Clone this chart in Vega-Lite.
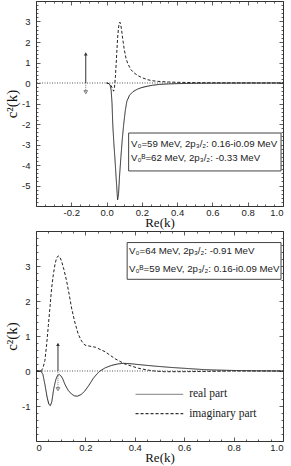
{
  "$schema": "https://vega.github.io/schema/vega-lite/v6.json",
  "padding": {"left": 4, "top": 0, "right": 0, "bottom": 0},
  "spacing": 0,
  "config": {
    "view": {"stroke": "#333", "strokeWidth": 1},
    "axis": {"grid": false, "domain": false, "labelFont": "Liberation Sans", "labelFontSize": 9.5, "labelColor": "#222", "tickColor": "#333", "tickWidth": 0.8, "titleFont": "Liberation Serif", "titleFontWeight": "normal", "titleColor": "#111"}
  },
  "datasets": {
    "top": [
      {"x": 0.0, "y": 0, "part": "real"},
      {"x": 0.012, "y": -0.03, "part": "real"},
      {"x": 0.02, "y": -0.1, "part": "real"},
      {"x": 0.026, "y": -0.35, "part": "real"},
      {"x": 0.031, "y": -1.0, "part": "real"},
      {"x": 0.035, "y": -2.0, "part": "real"},
      {"x": 0.041, "y": -2.9, "part": "real"},
      {"x": 0.047, "y": -3.64, "part": "real"},
      {"x": 0.054, "y": -4.6, "part": "real"},
      {"x": 0.0625, "y": -5.7, "part": "real"},
      {"x": 0.068, "y": -5.4, "part": "real"},
      {"x": 0.073, "y": -4.6, "part": "real"},
      {"x": 0.081, "y": -3.64, "part": "real"},
      {"x": 0.089, "y": -2.75, "part": "real"},
      {"x": 0.097, "y": -2.02, "part": "real"},
      {"x": 0.106, "y": -1.35, "part": "real"},
      {"x": 0.115, "y": -0.89, "part": "real"},
      {"x": 0.13, "y": -0.6, "part": "real"},
      {"x": 0.15, "y": -0.42, "part": "real"},
      {"x": 0.175, "y": -0.3, "part": "real"},
      {"x": 0.2, "y": -0.22, "part": "real"},
      {"x": 0.23, "y": -0.16, "part": "real"},
      {"x": 0.26, "y": -0.11, "part": "real"},
      {"x": 0.3, "y": -0.07, "part": "real"},
      {"x": 0.35, "y": -0.045, "part": "real"},
      {"x": 0.4, "y": -0.03, "part": "real"},
      {"x": 0.5, "y": -0.015, "part": "real"},
      {"x": 0.6, "y": -0.008, "part": "real"},
      {"x": 0.8, "y": -0.002, "part": "real"},
      {"x": 1.0, "y": 0, "part": "real"},
      {"x": 0.0, "y": 0, "part": "imaginary"},
      {"x": 0.015, "y": -0.03, "part": "imaginary"},
      {"x": 0.025, "y": -0.12, "part": "imaginary"},
      {"x": 0.035, "y": -0.3, "part": "imaginary"},
      {"x": 0.04, "y": -0.4, "part": "imaginary"},
      {"x": 0.045, "y": -0.2, "part": "imaginary"},
      {"x": 0.05, "y": 0.3, "part": "imaginary"},
      {"x": 0.053, "y": 0.73, "part": "imaginary"},
      {"x": 0.058, "y": 1.5, "part": "imaginary"},
      {"x": 0.0625, "y": 2.18, "part": "imaginary"},
      {"x": 0.067, "y": 2.65, "part": "imaginary"},
      {"x": 0.0715, "y": 2.9, "part": "imaginary"},
      {"x": 0.0755, "y": 2.97, "part": "imaginary"},
      {"x": 0.08, "y": 2.85, "part": "imaginary"},
      {"x": 0.085, "y": 2.6, "part": "imaginary"},
      {"x": 0.091, "y": 2.18, "part": "imaginary"},
      {"x": 0.1, "y": 1.65, "part": "imaginary"},
      {"x": 0.11, "y": 1.21, "part": "imaginary"},
      {"x": 0.12, "y": 0.95, "part": "imaginary"},
      {"x": 0.138, "y": 0.65, "part": "imaginary"},
      {"x": 0.155, "y": 0.5, "part": "imaginary"},
      {"x": 0.176, "y": 0.37, "part": "imaginary"},
      {"x": 0.2, "y": 0.26, "part": "imaginary"},
      {"x": 0.233, "y": 0.16, "part": "imaginary"},
      {"x": 0.26, "y": 0.11, "part": "imaginary"},
      {"x": 0.29, "y": 0.08, "part": "imaginary"},
      {"x": 0.35, "y": 0.05, "part": "imaginary"},
      {"x": 0.4, "y": 0.035, "part": "imaginary"},
      {"x": 0.5, "y": 0.02, "part": "imaginary"},
      {"x": 0.6, "y": 0.01, "part": "imaginary"},
      {"x": 0.8, "y": 0.004, "part": "imaginary"},
      {"x": 1.0, "y": 0, "part": "imaginary"}
    ],
    "bottom": [
      {"x": 0.0, "y": 0, "part": "real"},
      {"x": 0.02, "y": 0, "part": "real"},
      {"x": 0.028, "y": -0.1, "part": "real"},
      {"x": 0.036, "y": -0.38, "part": "real"},
      {"x": 0.045, "y": -0.75, "part": "real"},
      {"x": 0.052, "y": -0.95, "part": "real"},
      {"x": 0.058, "y": -0.99, "part": "real"},
      {"x": 0.064, "y": -0.88, "part": "real"},
      {"x": 0.072, "y": -0.5, "part": "real"},
      {"x": 0.08, "y": -0.25, "part": "real"},
      {"x": 0.087, "y": -0.13, "part": "real"},
      {"x": 0.094, "y": -0.1, "part": "real"},
      {"x": 0.1, "y": -0.13, "part": "real"},
      {"x": 0.108, "y": -0.22, "part": "real"},
      {"x": 0.117, "y": -0.38, "part": "real"},
      {"x": 0.13, "y": -0.55, "part": "real"},
      {"x": 0.144, "y": -0.66, "part": "real"},
      {"x": 0.156, "y": -0.71, "part": "real"},
      {"x": 0.168, "y": -0.72, "part": "real"},
      {"x": 0.183, "y": -0.67, "part": "real"},
      {"x": 0.198, "y": -0.57, "part": "real"},
      {"x": 0.215, "y": -0.4, "part": "real"},
      {"x": 0.232, "y": -0.21, "part": "real"},
      {"x": 0.246, "y": -0.09, "part": "real"},
      {"x": 0.259, "y": 0, "part": "real"},
      {"x": 0.28, "y": 0.09, "part": "real"},
      {"x": 0.306, "y": 0.16, "part": "real"},
      {"x": 0.33, "y": 0.2, "part": "real"},
      {"x": 0.353, "y": 0.22, "part": "real"},
      {"x": 0.38, "y": 0.21, "part": "real"},
      {"x": 0.42, "y": 0.18, "part": "real"},
      {"x": 0.48, "y": 0.14, "part": "real"},
      {"x": 0.55, "y": 0.1, "part": "real"},
      {"x": 0.616, "y": 0.07, "part": "real"},
      {"x": 0.68, "y": 0.04, "part": "real"},
      {"x": 0.72, "y": 0.03, "part": "real"},
      {"x": 0.8, "y": 0.015, "part": "real"},
      {"x": 0.9, "y": 0.005, "part": "real"},
      {"x": 1.0, "y": 0, "part": "real"},
      {"x": 0.0, "y": 0, "part": "imaginary"},
      {"x": 0.02, "y": 0, "part": "imaginary"},
      {"x": 0.028, "y": 0.08, "part": "imaginary"},
      {"x": 0.036, "y": 0.3, "part": "imaginary"},
      {"x": 0.043, "y": 0.75, "part": "imaginary"},
      {"x": 0.05, "y": 1.3, "part": "imaginary"},
      {"x": 0.057, "y": 1.85, "part": "imaginary"},
      {"x": 0.063, "y": 2.35, "part": "imaginary"},
      {"x": 0.07, "y": 2.75, "part": "imaginary"},
      {"x": 0.077, "y": 3.05, "part": "imaginary"},
      {"x": 0.083, "y": 3.22, "part": "imaginary"},
      {"x": 0.09, "y": 3.29, "part": "imaginary"},
      {"x": 0.096, "y": 3.26, "part": "imaginary"},
      {"x": 0.103, "y": 3.15, "part": "imaginary"},
      {"x": 0.113, "y": 2.9, "part": "imaginary"},
      {"x": 0.124, "y": 2.57, "part": "imaginary"},
      {"x": 0.134, "y": 2.2, "part": "imaginary"},
      {"x": 0.144, "y": 1.8, "part": "imaginary"},
      {"x": 0.157, "y": 1.4, "part": "imaginary"},
      {"x": 0.171, "y": 1.05, "part": "imaginary"},
      {"x": 0.185, "y": 0.85, "part": "imaginary"},
      {"x": 0.198, "y": 0.74, "part": "imaginary"},
      {"x": 0.21, "y": 0.72, "part": "imaginary"},
      {"x": 0.24, "y": 0.68, "part": "imaginary"},
      {"x": 0.28, "y": 0.55, "part": "imaginary"},
      {"x": 0.32, "y": 0.35, "part": "imaginary"},
      {"x": 0.36, "y": 0.2, "part": "imaginary"},
      {"x": 0.414, "y": 0.08, "part": "imaginary"},
      {"x": 0.45, "y": 0.03, "part": "imaginary"},
      {"x": 0.48, "y": 0, "part": "imaginary"},
      {"x": 0.52, "y": -0.02, "part": "imaginary"},
      {"x": 0.6, "y": -0.02, "part": "imaginary"},
      {"x": 0.7, "y": -0.01, "part": "imaginary"},
      {"x": 0.8, "y": 0, "part": "imaginary"},
      {"x": 1.0, "y": 0, "part": "imaginary"}
    ]
  },
  "vconcat": [
    {
      "width": 247,
      "height": 205,
      "resolve": {"axis": {"x": "independent", "y": "independent"}},
      "layer": [
        {
          "data": {"values": [{}]},
          "mark": {"type": "rule", "color": "#555", "strokeWidth": 1, "strokeDash": [1, 1.5]},
          "encoding": {"y": {"datum": 0, "type": "quantitative", "scale": {"domain": [-6, 4], "nice": false, "zero": false}, "axis": null}}
        },
        {
          "data": {"name": "top"},
          "mark": {"type": "line", "color": "#222", "strokeWidth": 1},
          "encoding": {
            "x": {"field": "x", "type": "quantitative", "scale": {"domain": [-0.4, 1.0], "nice": false, "zero": false},
                  "axis": {"orient": "bottom", "values": [-0.2, 0, 0.2, 0.4, 0.6, 0.8, 1.0], "ticks": false, "labelPadding": 1, "labelExpr": "replace(format(datum.value, '.1f'), '\u2212', '-')", "title": "Re(k)", "titleFontSize": 13, "titlePadding": 0}},
            "y": {"field": "y", "type": "quantitative", "scale": {"domain": [-6, 4], "nice": false, "zero": false},
                  "axis": {"orient": "left", "values": [-5, -4, -3, -2, -1, 0, 1, 2, 3], "ticks": false, "labelPadding": 6, "labelExpr": "'' + datum.value", "title": "c²(k)", "titleFontSize": 15, "titlePadding": 2}},
            "strokeDash": {"field": "part", "type": "nominal", "scale": {"domain": ["real", "imaginary"], "range": [[1, 0], [3, 2]]}, "legend": null}
          }
        },
        {
          "data": {"values": [{}]},
          "mark": {"type": "point", "opacity": 0},
          "encoding": {
            "x": {"datum": 0, "type": "quantitative", "scale": {"domain": [-0.4, 1.0], "nice": false, "zero": false},
                  "axis": {"orient": "bottom", "values": [-0.4, -0.2, 0, 0.2, 0.4, 0.6, 0.8, 1.0], "labels": false, "tickSize": -4, "title": null, "minExtent": 0, "maxExtent": 0}},
            "y": {"datum": 0, "type": "quantitative", "scale": {"domain": [-6, 4], "nice": false, "zero": false},
                  "axis": {"orient": "left", "values": [-6, -5, -4, -3, -2, -1, 0, 1, 2, 3, 4], "labels": false, "tickSize": -4, "title": null, "minExtent": 0, "maxExtent": 0}}
          }
        },
        {
          "data": {"values": [{}]},
          "mark": {"type": "point", "opacity": 0},
          "encoding": {
            "x": {"datum": 0, "type": "quantitative", "scale": {"domain": [-0.4, 1.0], "nice": false, "zero": false},
                  "axis": {"orient": "bottom", "values": [-0.35, -0.3, -0.25, -0.15, -0.1, -0.05, 0.05, 0.1, 0.15, 0.25, 0.3, 0.35, 0.45, 0.5, 0.55, 0.65, 0.7, 0.75, 0.85, 0.9, 0.95], "labels": false, "tickSize": -2, "title": null, "minExtent": 0, "maxExtent": 0}},
            "y": {"datum": 0, "type": "quantitative", "scale": {"domain": [-6, 4], "nice": false, "zero": false},
                  "axis": {"orient": "left", "values": [-5.8, -5.6, -5.4, -5.2, -4.8, -4.6, -4.4, -4.2, -3.8, -3.6, -3.4, -3.2, -2.8, -2.6, -2.4, -2.2, -1.8, -1.6, -1.4, -1.2, -0.8, -0.6, -0.4, -0.2, 0.2, 0.4, 0.6, 0.8, 1.2, 1.4, 1.6, 1.8, 2.2, 2.4, 2.6, 2.8, 3.2, 3.4, 3.6, 3.8], "labels": false, "tickSize": -2, "title": null, "minExtent": 0, "maxExtent": 0}}
          }
        },
        {
          "data": {"values": [{}]},
          "mark": {"type": "point", "opacity": 0},
          "encoding": {
            "x": {"datum": 0, "type": "quantitative", "scale": {"domain": [-0.4, 1.0], "nice": false, "zero": false},
                  "axis": {"orient": "top", "values": [-0.4, -0.2, 0, 0.2, 0.4, 0.6, 0.8, 1.0], "labels": false, "tickSize": -4, "title": null, "minExtent": 0, "maxExtent": 0}},
            "y": {"datum": 0, "type": "quantitative", "scale": {"domain": [-6, 4], "nice": false, "zero": false},
                  "axis": {"orient": "right", "values": [-6, -5, -4, -3, -2, -1, 0, 1, 2, 3, 4], "labels": false, "tickSize": -4, "title": null, "minExtent": 0, "maxExtent": 0}}
          }
        },
        {
          "data": {"values": [{}]},
          "mark": {"type": "point", "opacity": 0},
          "encoding": {
            "x": {"datum": 0, "type": "quantitative", "scale": {"domain": [-0.4, 1.0], "nice": false, "zero": false},
                  "axis": {"orient": "top", "values": [-0.35, -0.3, -0.25, -0.15, -0.1, -0.05, 0.05, 0.1, 0.15, 0.25, 0.3, 0.35, 0.45, 0.5, 0.55, 0.65, 0.7, 0.75, 0.85, 0.9, 0.95], "labels": false, "tickSize": -2, "title": null, "minExtent": 0, "maxExtent": 0}},
            "y": {"datum": 0, "type": "quantitative", "scale": {"domain": [-6, 4], "nice": false, "zero": false},
                  "axis": {"orient": "right", "values": [-5.8, -5.6, -5.4, -5.2, -4.8, -4.6, -4.4, -4.2, -3.8, -3.6, -3.4, -3.2, -2.8, -2.6, -2.4, -2.2, -1.8, -1.6, -1.4, -1.2, -0.8, -0.6, -0.4, -0.2, 0.2, 0.4, 0.6, 0.8, 1.2, 1.4, 1.6, 1.8, 2.2, 2.4, 2.6, 2.8, 3.2, 3.4, 3.6, 3.8], "labels": false, "tickSize": -2, "title": null, "minExtent": 0, "maxExtent": 0}}
          }
        },
        {
          "data": {"values": [{"x": -0.118, "top": 1.42, "bottom": -0.45}]},
          "layer": [
            {"mark": {"type": "rule", "color": "#333", "strokeWidth": 1},
             "encoding": {"x": {"field": "x", "type": "quantitative", "scale": {"domain": [-0.4, 1.0], "nice": false, "zero": false}, "axis": null},
                          "y": {"field": "top", "type": "quantitative", "scale": {"domain": [-6, 4], "nice": false, "zero": false}, "axis": null},
                          "y2": {"datum": 0}}},
            {"mark": {"type": "rule", "color": "#777", "strokeWidth": 1, "strokeDash": [1, 1]},
             "encoding": {"x": {"field": "x", "type": "quantitative", "axis": null},
                          "y": {"field": "bottom", "type": "quantitative", "axis": null},
                          "y2": {"datum": 0}}},
            {"mark": {"type": "point", "shape": "triangle-up", "filled": true, "color": "#333", "size": 14, "opacity": 1},
             "encoding": {"x": {"field": "x", "type": "quantitative", "axis": null},
                          "y": {"field": "top", "type": "quantitative", "axis": null}}},
            {"mark": {"type": "point", "shape": "triangle-down", "filled": false, "color": "#666", "size": 14, "strokeWidth": 0.8, "opacity": 1},
             "encoding": {"x": {"field": "x", "type": "quantitative", "axis": null},
                          "y": {"field": "bottom", "type": "quantitative", "axis": null}}}
          ]
        },
        {
          "data": {"values": [{"x1": 0.125, "x2": 0.989, "y1": -2.44, "y2": -4.29}]},
          "mark": {"type": "rect", "fill": "white", "stroke": "#444", "strokeWidth": 1},
          "encoding": {
            "x": {"field": "x1", "type": "quantitative", "axis": null},
            "x2": {"field": "x2"},
            "y": {"field": "y1", "type": "quantitative", "axis": null},
            "y2": {"field": "y2"}
          }
        },
        {
          "data": {"values": [
            {"x": 0.138, "y": -2.96, "t": "V₀=59 MeV, 2p₃/₂: 0.16-i0.09 MeV"},
            {"x": 0.138, "y": -3.67, "t": "V₀ᴮ=62 MeV, 2p₃/₂: -0.33 MeV"}
          ]},
          "mark": {"type": "text", "align": "left", "baseline": "middle", "font": "Liberation Sans", "fontSize": 9.7, "color": "#222"},
          "encoding": {
            "x": {"field": "x", "type": "quantitative", "axis": null},
            "y": {"field": "y", "type": "quantitative", "axis": null},
            "text": {"field": "t"}
          }
        }
      ]
    },
    {
      "width": 247,
      "height": 210,
      "resolve": {"axis": {"x": "independent", "y": "independent"}},
      "layer": [
        {
          "data": {"values": [{}]},
          "mark": {"type": "rule", "color": "#555", "strokeWidth": 1, "strokeDash": [1, 1.5]},
          "encoding": {"y": {"datum": 0, "type": "quantitative", "scale": {"domain": [-2, 4], "nice": false, "zero": false}, "axis": null}}
        },
        {
          "data": {"name": "bottom"},
          "mark": {"type": "line", "color": "#222", "strokeWidth": 1},
          "encoding": {
            "x": {"field": "x", "type": "quantitative", "scale": {"domain": [0, 1.0], "nice": false, "zero": false},
                  "axis": {"orient": "bottom", "values": [0, 0.2, 0.4, 0.6, 0.8, 1.0], "ticks": false, "labelPadding": 1, "labelExpr": "datum.value == 0 ? '0' : format(datum.value, '.1f')", "title": "Re(k)", "titleFontSize": 13, "titlePadding": 0}},
            "y": {"field": "y", "type": "quantitative", "scale": {"domain": [-2, 4], "nice": false, "zero": false},
                  "axis": {"orient": "left", "values": [-1, 0, 1, 2, 3], "ticks": false, "labelPadding": 6, "labelExpr": "'' + datum.value", "title": "c²(k)", "titleFontSize": 15, "titlePadding": 2}},
            "strokeDash": {"field": "part", "type": "nominal", "scale": {"domain": ["real", "imaginary"], "range": [[1, 0], [3, 2]]}, "legend": null}
          }
        },
        {
          "data": {"values": [{}]},
          "mark": {"type": "point", "opacity": 0},
          "encoding": {
            "x": {"datum": 0, "type": "quantitative", "scale": {"domain": [0, 1.0], "nice": false, "zero": false},
                  "axis": {"orient": "bottom", "values": [0, 0.2, 0.4, 0.6, 0.8, 1.0], "labels": false, "tickSize": -4, "title": null, "minExtent": 0, "maxExtent": 0}},
            "y": {"datum": 0, "type": "quantitative", "scale": {"domain": [-2, 4], "nice": false, "zero": false},
                  "axis": {"orient": "left", "values": [-2, -1, 0, 1, 2, 3, 4], "labels": false, "tickSize": -4, "title": null, "minExtent": 0, "maxExtent": 0}}
          }
        },
        {
          "data": {"values": [{}]},
          "mark": {"type": "point", "opacity": 0},
          "encoding": {
            "x": {"datum": 0, "type": "quantitative", "scale": {"domain": [0, 1.0], "nice": false, "zero": false},
                  "axis": {"orient": "bottom", "values": [0.05, 0.1, 0.15, 0.25, 0.3, 0.35, 0.45, 0.5, 0.55, 0.65, 0.7, 0.75, 0.85, 0.9, 0.95], "labels": false, "tickSize": -2, "title": null, "minExtent": 0, "maxExtent": 0}},
            "y": {"datum": 0, "type": "quantitative", "scale": {"domain": [-2, 4], "nice": false, "zero": false},
                  "axis": {"orient": "left", "values": [-1.8, -1.6, -1.4, -1.2, -0.8, -0.6, -0.4, -0.2, 0.2, 0.4, 0.6, 0.8, 1.2, 1.4, 1.6, 1.8, 2.2, 2.4, 2.6, 2.8, 3.2, 3.4, 3.6, 3.8], "labels": false, "tickSize": -2, "title": null, "minExtent": 0, "maxExtent": 0}}
          }
        },
        {
          "data": {"values": [{}]},
          "mark": {"type": "point", "opacity": 0},
          "encoding": {
            "x": {"datum": 0, "type": "quantitative", "scale": {"domain": [0, 1.0], "nice": false, "zero": false},
                  "axis": {"orient": "top", "values": [0, 0.2, 0.4, 0.6, 0.8, 1.0], "labels": false, "tickSize": -4, "title": null, "minExtent": 0, "maxExtent": 0}},
            "y": {"datum": 0, "type": "quantitative", "scale": {"domain": [-2, 4], "nice": false, "zero": false},
                  "axis": {"orient": "right", "values": [-2, -1, 0, 1, 2, 3, 4], "labels": false, "tickSize": -4, "title": null, "minExtent": 0, "maxExtent": 0}}
          }
        },
        {
          "data": {"values": [{}]},
          "mark": {"type": "point", "opacity": 0},
          "encoding": {
            "x": {"datum": 0, "type": "quantitative", "scale": {"domain": [0, 1.0], "nice": false, "zero": false},
                  "axis": {"orient": "top", "values": [0.05, 0.1, 0.15, 0.25, 0.3, 0.35, 0.45, 0.5, 0.55, 0.65, 0.7, 0.75, 0.85, 0.9, 0.95], "labels": false, "tickSize": -2, "title": null, "minExtent": 0, "maxExtent": 0}},
            "y": {"datum": 0, "type": "quantitative", "scale": {"domain": [-2, 4], "nice": false, "zero": false},
                  "axis": {"orient": "right", "values": [-1.8, -1.6, -1.4, -1.2, -0.8, -0.6, -0.4, -0.2, 0.2, 0.4, 0.6, 0.8, 1.2, 1.4, 1.6, 1.8, 2.2, 2.4, 2.6, 2.8, 3.2, 3.4, 3.6, 3.8], "labels": false, "tickSize": -2, "title": null, "minExtent": 0, "maxExtent": 0}}
          }
        },
        {
          "data": {"values": [{"x": 0.089, "top": 0.76, "bottom": -0.52}]},
          "layer": [
            {"mark": {"type": "rule", "color": "#333", "strokeWidth": 1},
             "encoding": {"x": {"field": "x", "type": "quantitative", "scale": {"domain": [0, 1.0], "nice": false, "zero": false}, "axis": null},
                          "y": {"field": "top", "type": "quantitative", "scale": {"domain": [-2, 4], "nice": false, "zero": false}, "axis": null},
                          "y2": {"datum": 0}}},
            {"mark": {"type": "rule", "color": "#777", "strokeWidth": 1, "strokeDash": [1, 1]},
             "encoding": {"x": {"field": "x", "type": "quantitative", "axis": null},
                          "y": {"field": "bottom", "type": "quantitative", "axis": null},
                          "y2": {"datum": 0}}},
            {"mark": {"type": "point", "shape": "triangle-up", "filled": true, "color": "#333", "size": 14, "opacity": 1},
             "encoding": {"x": {"field": "x", "type": "quantitative", "axis": null},
                          "y": {"field": "top", "type": "quantitative", "axis": null}}},
            {"mark": {"type": "point", "shape": "triangle-down", "filled": false, "color": "#666", "size": 14, "strokeWidth": 0.8, "opacity": 1},
             "encoding": {"x": {"field": "x", "type": "quantitative", "axis": null},
                          "y": {"field": "bottom", "type": "quantitative", "axis": null}}}
          ]
        },
        {
          "data": {"values": [{"x1": 0.369, "x2": 0.992, "y1": 3.67, "y2": 2.62}]},
          "mark": {"type": "rect", "fill": "white", "stroke": "#444", "strokeWidth": 1},
          "encoding": {
            "x": {"field": "x1", "type": "quantitative", "axis": null},
            "x2": {"field": "x2"},
            "y": {"field": "y1", "type": "quantitative", "axis": null},
            "y2": {"field": "y2"}
          }
        },
        {
          "data": {"values": [
            {"x": 0.377, "y": 3.43, "t": "V₀=64 MeV, 2p₃/₂: -0.91 MeV"},
            {"x": 0.377, "y": 2.92, "t": "V₀ᴮ=59 MeV, 2p₃/₂: 0.16-i0.09 MeV"}
          ]},
          "mark": {"type": "text", "align": "left", "baseline": "middle", "font": "Liberation Sans", "fontSize": 9.7, "color": "#222"},
          "encoding": {
            "x": {"field": "x", "type": "quantitative", "axis": null},
            "y": {"field": "y", "type": "quantitative", "axis": null},
            "text": {"field": "t"}
          }
        },
        {
          "data": {"values": [
            {"x1": 0.403, "x2": 0.596, "y": -0.67, "part": "real"},
            {"x1": 0.403, "x2": 0.596, "y": -1.22, "part": "imaginary"}
          ]},
          "mark": {"type": "rule", "strokeWidth": 1.2},
          "encoding": {
            "x": {"field": "x1", "type": "quantitative", "axis": null},
            "x2": {"field": "x2"},
            "y": {"field": "y", "type": "quantitative", "axis": null},
            "color": {"field": "part", "type": "nominal", "scale": {"domain": ["real", "imaginary"], "range": ["#999", "#333"]}, "legend": null},
            "strokeDash": {"field": "part", "type": "nominal", "scale": {"domain": ["real", "imaginary"], "range": [[1, 0], [3, 2]]}, "legend": null}
          }
        },
        {
          "data": {"values": [
            {"x": 0.62, "y": -0.67, "t": "real part"},
            {"x": 0.62, "y": -1.22, "t": "imaginary part"}
          ]},
          "mark": {"type": "text", "align": "left", "baseline": "middle", "font": "Liberation Serif", "fontSize": 11.5, "color": "#222"},
          "encoding": {
            "x": {"field": "x", "type": "quantitative", "axis": null},
            "y": {"field": "y", "type": "quantitative", "axis": null},
            "text": {"field": "t"}
          }
        }
      ]
    }
  ]
}
